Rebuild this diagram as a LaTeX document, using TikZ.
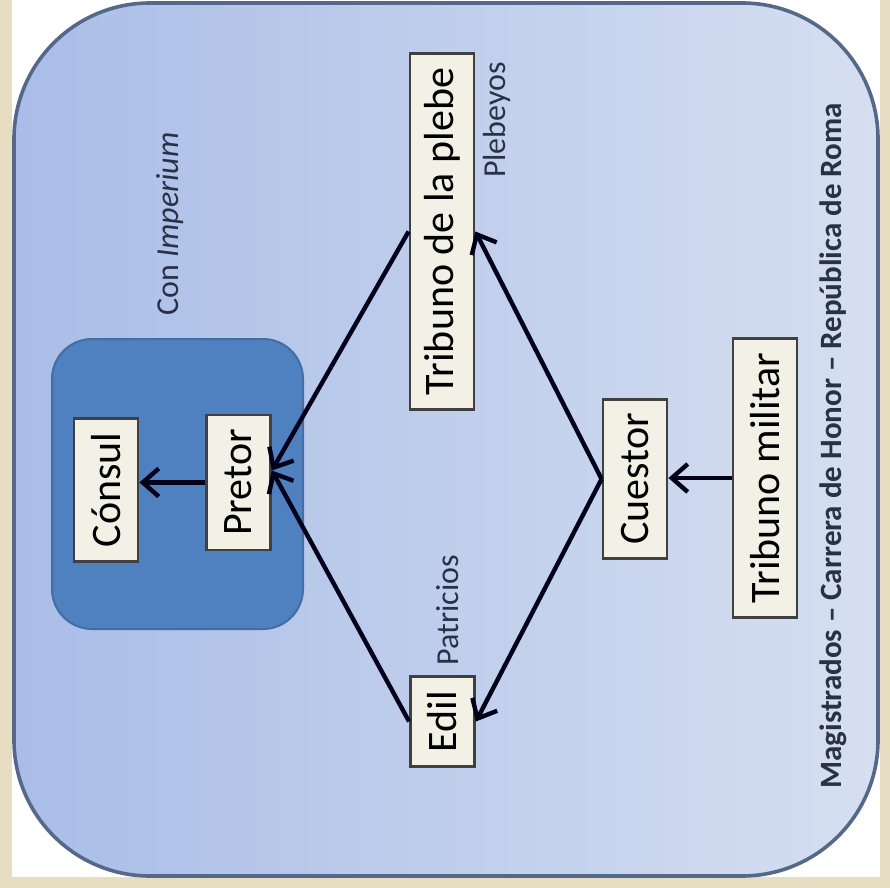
\documentclass[tikz,border=0pt]{standalone}
\usepackage{fontspec}
\setmainfont{Carlito}
\usetikzlibrary{arrows.meta}

\definecolor{fondo}{HTML}{E7DDC3}
\definecolor{azulclaro}{HTML}{A9BDE7}
\definecolor{azulpalido}{HTML}{D6DFF1}
\definecolor{azulfuerte}{HTML}{4F80C0}
\definecolor{crema}{HTML}{F3F1E5}
\definecolor{marco}{HTML}{55688A}
\definecolor{tinta}{HTML}{2A3145}

\begin{document}
\begin{tikzpicture}[x=0.5pt, y=-0.5pt,
  cargo/.style={draw=black!75, line width=1.4pt, fill=crema, rotate=90,
    font=\fontsize{21}{25}\selectfont, inner xsep=7pt, minimum height=32pt},
  nota/.style={rotate=90, text=tinta, font=\fontsize{16}{19}\selectfont},
  flecha/.style={-{Straight Barb[length=8pt, width=14pt]}, line width=2.2pt,
    draw=black!90!blue}]

\useasboundingbox (0,0) rectangle (890,888);
\fill[fondo] (0,0) rectangle (890,888);
\fill[white] (12,0) rectangle (880,877);
\shadedraw[left color=azulclaro, right color=azulpalido, draw=marco, line width=1.8pt,
  rounded corners=68pt] (14,3) rectangle (878,876);
\filldraw[fill=azulfuerte, draw=azulfuerte!85!black, line width=1pt,
  rounded corners=20pt] (52,339) rectangle (303,629);

\node[cargo] at (106,490) (consul) {Cónsul};
\node[cargo] at (238.5,482.5) (pretor) {Pretor};
\node[cargo] at (442,231.5) (plebe) {Tribuno de la plebe};
\node[cargo] at (442.5,721.5) (edil) {Edil};
\node[cargo] at (635,479) (cuestor) {Cuestor};
\node[cargo] at (765,478) (militar) {Tribuno militar};

\node[nota] at (170,224) (imperium) {Con \textit{Imperium}};
\node[nota] at (497,120) (plebeyos) {Plebeyos};
\node[nota] at (448,610) (patricios) {Patricios};
\node[nota, font=\fontsize{15.5}{19}\selectfont\bfseries] at (833,446) (titulo)
  {Magistrados -- Carrera de Honor -- República de Roma};

\draw[flecha] (pretor.north) -- (consul.south |- pretor.north);
\draw[flecha] (militar.north) -- (cuestor.south |- militar.north);
\draw[flecha] (cuestor.north) -- (plebe.south);
\draw[flecha] (cuestor.north) -- (edil.south);
\draw[flecha] (plebe.north) -- ([yshift=6pt]pretor.south);
\draw[flecha] (edil.north) -- ([yshift=6pt]pretor.south);

\end{tikzpicture}
\end{document}
